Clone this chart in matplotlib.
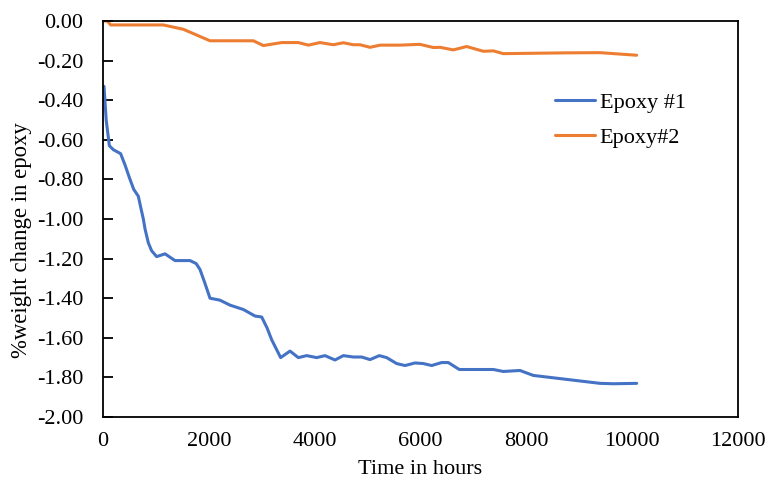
import matplotlib
matplotlib.use("Agg")
import matplotlib.pyplot as plt

# Epoxy #1 (blue)
hours1 = [19, 60, 120, 195, 333, 420, 497, 580, 667, 720, 762, 794, 856, 918, 1013,
          1172, 1361, 1644, 1760, 1833, 1920, 2022, 2211, 2400, 2652, 2873, 2999,
          3100, 3188, 3357, 3534, 3691, 3849, 4038, 4195, 4384, 4542, 4731, 4888,
          5046, 5222, 5360, 5549, 5707, 5896, 6053, 6211, 6399, 6525, 6733, 6935,
          7376, 7565, 7880, 8132, 8447, 8762, 9077, 9392, 9643, 10085]
epoxy1 = [-0.33, -0.50, -0.63, -0.65, -0.67, -0.73, -0.79, -0.85, -0.885, -0.95, -1.00,
          -1.05, -1.12, -1.16, -1.19, -1.176, -1.21, -1.21, -1.225, -1.255, -1.32, -1.40,
          -1.41, -1.435, -1.457, -1.49, -1.495, -1.55, -1.61, -1.70, -1.667, -1.70,
          -1.69, -1.70, -1.69, -1.712, -1.69, -1.697, -1.697, -1.71, -1.69, -1.70,
          -1.73, -1.74, -1.727, -1.73, -1.74, -1.725, -1.725, -1.76, -1.76, -1.76,
          -1.77, -1.765, -1.79, -1.80, -1.81, -1.82, -1.83, -1.832, -1.83]

# Epoxy #2 (orange)
hours2 = [6, 80, 145, 1140, 1518, 2022, 2841, 3030, 3376, 3691, 3880, 4100, 4352,
          4542, 4731, 4857, 5046, 5235, 5612, 5990, 6242, 6369, 6620, 6872, 7187,
          7376, 7565, 8132, 8762, 9392, 10085]
epoxy2 = [0.00, 0.00, -0.02, -0.02, -0.042, -0.10, -0.10, -0.124, -0.109, -0.109,
          -0.122, -0.109, -0.12, -0.11, -0.12, -0.12, -0.133, -0.122, -0.122, -0.118,
          -0.134, -0.133, -0.146, -0.129, -0.153, -0.151, -0.165, -0.163, -0.161,
          -0.16, -0.173]

series_labels = ["Epoxy #1", "Epoxy#2"]
yticks = [0.0, -0.2, -0.4, -0.6, -0.8, -1.0, -1.2, -1.4, -1.6, -1.8, -2.0]
xticks = [0, 2000, 4000, 6000, 8000, 10000, 12000]

plt.rcParams["font.family"] = ["Liberation Serif", "DejaVu Serif"]
fs = 16

fig = plt.figure(figsize=(7.67, 4.79), dpi=100)
ax = fig.add_axes([0.1343, 0.1294, 0.8279, 0.8268])

ax.plot(hours1, epoxy1, color="#4472C4", lw=2.2, label=series_labels[0],
        solid_capstyle="round", solid_joinstyle="round")
ax.plot(hours2, epoxy2, color="#ED7D31", lw=2.2, label=series_labels[1],
        solid_capstyle="round", solid_joinstyle="round")

ax.set_xlim(0, 12000)
ax.set_ylim(-2.0, 0.0)
ax.set_xticks(xticks)
ax.set_yticks(yticks)
ax.set_yticklabels([f"{v:.2f}" for v in yticks], fontsize=fs)
ax.set_xticklabels([str(v) for v in xticks], fontsize=fs)
ax.tick_params(axis="y", direction="in", length=7, width=1.3, pad=14)
ax.tick_params(axis="x", length=0, pad=11)
for s in ax.spines.values():
    s.set_linewidth(1.3)
    s.set_color("black")

ax.set_xlabel("Time in hours", fontsize=fs, labelpad=6)
ax.set_ylabel("%weight change in epoxy", fontsize=16.4)
ax.yaxis.set_label_coords(-0.112, 0.446)

ax.legend(loc="upper left", bbox_to_anchor=(0.712, 0.82), frameon=False,
          fontsize=fs, handlelength=1.8, handletextpad=0.2, labelspacing=0.65,
          borderpad=0, borderaxespad=0)

fig.savefig("out.png", dpi=100)
